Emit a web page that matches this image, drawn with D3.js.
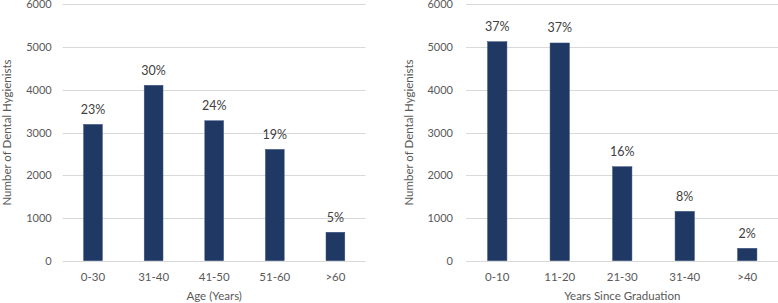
<!DOCTYPE html>
<html>
<head>
<meta charset="utf-8">
<script src="https://cdn.jsdelivr.net/npm/d3@7"></script>
<style>
  body { margin: 0; background: #fff; }
  svg text { font-family: Lato, "Open Sans", sans-serif; fill: #595959; }
</style>
</head>
<body>
<div id="chart"></div>
<script>
// Data
const ageGroups = ["0-30", "31-40", "41-50", "51-60", ">60"];
const ageCounts = [3190, 4105, 3275, 2605, 665];
const agePct = ["23%", "30%", "24%", "19%", "5%"];

const gradGroups = ["0-10", "11-20", "21-30", "31-40", ">40"];
const gradCounts = [5125, 5095, 2200, 1155, 290];
const gradPct = ["37%", "37%", "16%", "8%", "2%"];

const yTicks = [0, 1000, 2000, 3000, 4000, 5000, 6000];

const width = 778;
const height = 303;

const svg = d3.select("#chart")
  .append("svg")
  .attr("width", width)
  .attr("height", height);

function drawPanel(cfg) {
  const g = svg.append("g");

  const x = d3.scaleBand()
    .domain(cfg.cats)
    .range([cfg.x0, cfg.x1])
    .paddingInner(0.69)
    .paddingOuter(0.345);

  const y = d3.scaleLinear()
    .domain([0, 6000])
    .range([260.7, 4.3]);

  // gridlines
  g.selectAll("line.grid")
    .data(yTicks)
    .join("line")
    .attr("class", "grid")
    .attr("x1", cfg.x0)
    .attr("x2", cfg.x1)
    .attr("y1", d => Math.round(y(d)) + 0.5)
    .attr("y2", d => Math.round(y(d)) + 0.5)
    .attr("stroke", "#d9d9d9")
    .attr("stroke-width", 1);

  // y axis labels
  const yAxis = g.append("g")
    .attr("transform", `translate(${cfg.x0},0)`)
    .call(d3.axisLeft(y).tickValues(yTicks).tickSize(0).tickPadding(cfg.yPad).tickFormat(d3.format("d")));
  yAxis.select(".domain").remove();
  yAxis.selectAll("text").style("font-size", "11px").attr("fill", "#595959");

  // x axis labels
  const xAxis = g.append("g")
    .attr("transform", `translate(0,${y(0)})`)
    .call(d3.axisBottom(x).tickSize(0).tickPadding(12));
  xAxis.select(".domain").remove();
  xAxis.selectAll("text").style("font-size", "11.5px").attr("fill", "#595959");

  // bars
  g.selectAll("rect.bar")
    .data(cfg.vals)
    .join("rect")
    .attr("class", "bar")
    .attr("x", (d, i) => x(cfg.cats[i]))
    .attr("y", d => y(d))
    .attr("width", x.bandwidth())
    .attr("height", d => y(0) - y(d))
    .attr("fill", "#203864")
    .attr("stroke", "#3a5280")
    .attr("stroke-width", 0.5);

  // percentage labels
  g.selectAll("text.pct")
    .data(cfg.vals)
    .join("text")
    .attr("class", "pct")
    .attr("x", (d, i) => x(cfg.cats[i]) + x.bandwidth() / 2)
    .attr("y", d => y(d) - 10.5)
    .attr("text-anchor", "middle")
    .style("font-size", "12.5px")
    .style("fill", "#404040")
    .text((d, i) => cfg.pct[i]);

  // axis titles
  g.append("text")
    .attr("transform", `translate(${cfg.titleX},132.5) rotate(-90)`)
    .attr("text-anchor", "middle")
    .attr("dominant-baseline", "central")
    .style("font-size", "11.5px")
    .text("Number of Dental Hygienists");

  g.append("text")
    .attr("x", (cfg.x0 + cfg.x1) / 2)
    .attr("y", 300)
    .attr("text-anchor", "middle")
    .style("font-size", "11.5px")
    .text(cfg.xTitle);
}

drawPanel({ cats: ageGroups, vals: ageCounts, pct: agePct, x0: 62.7, x1: 365.7, yPad: 11, titleX: 6, xTitle: "Age (Years)" });
drawPanel({ cats: gradGroups, vals: gradCounts, pct: gradPct, x0: 466, x1: 778.5, yPad: 13, titleX: 408, xTitle: "Years Since Graduation" });
</script>
</body>
</html>
